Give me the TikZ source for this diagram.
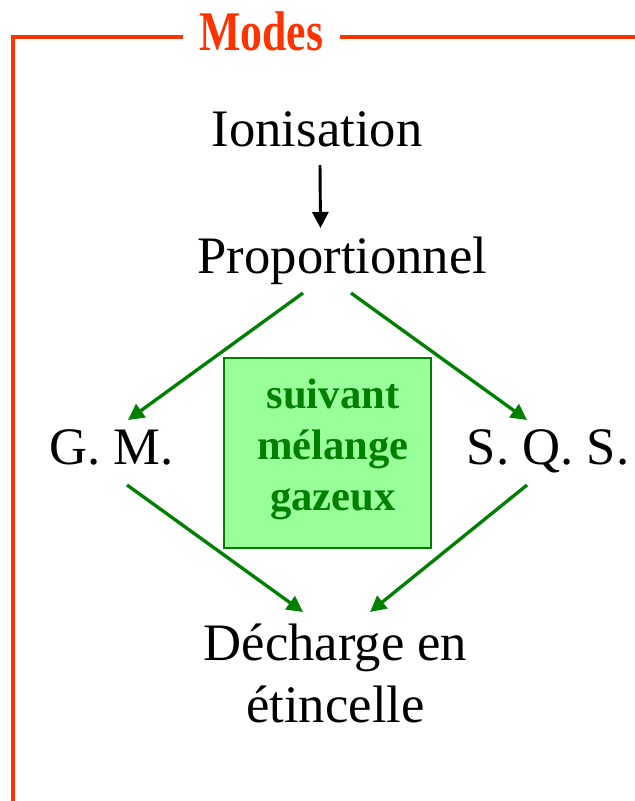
\documentclass[tikz,border=0pt]{standalone}
\usepackage{fontspec}
\usepackage{graphicx}
\setmainfont{Liberation Serif}
\usetikzlibrary{arrows.meta,calc}
\definecolor{framered}{HTML}{FF3300}
\definecolor{dkgreen}{HTML}{008000}
\definecolor{ltgreen}{HTML}{99FF99}
\tikzset{
  big/.style={font=\fontsize{39.5}{46.5}\selectfont, inner sep=0pt, anchor=base},
  greenarrow/.style={draw=dkgreen, line width=2.5pt, -{Triangle[length=12pt,width=12pt]}},
  blackarrow/.style={draw=black, line width=2.2pt, -{Triangle[length=12pt,width=12pt]}},
  framestyle/.style={draw=framered, line width=3pt},
}
\begin{document}
\begin{tikzpicture}[x=0.75pt,y=-0.75pt]
\useasboundingbox (0,0) rectangle (635,801);
% frame
\coordinate (fl) at (183,37);
\coordinate (fr) at (340,37);
\coordinate (fe) at (640,37);
\coordinate (fb) at (13,805);
\draw[framestyle] (fl) -- (13,37) -- (fb);
\draw[framestyle] (fr) -- (fe);
\node[inner sep=0pt, anchor=base, text=framered, font=\fontsize{42}{48}\selectfont\bfseries] (title) at (261.5,50.5) {\scalebox{0.78}[1]{Modes}};
% nodes
\node[big] (ion) at (317,146) {Ionisation};
\node[big] (prop) at (342.5,273) {Proportionnel};
\node[big] (gm) at (111.5,464.5) {G. M.};
\node[big] (sqs) at (548,464.5) {S. Q. S.};
\node[big, align=center, font=\fontsize{39.5}{46.5}\selectfont] (dech) at (335.5,722) {Décharge en\\étincelle};
% green box
\node[draw=dkgreen, line width=1.5pt, fill=ltgreen, minimum width=155pt, minimum height=143pt, inner sep=0pt] (box) at (327.5,453) {};
\node[align=center, text=dkgreen, font=\fontsize{32}{38.25}\selectfont\bfseries, inner sep=0pt, anchor=base] (boxtext) at (333,510) {suivant\\mélange\\gazeux};
% connectors
\draw[blackarrow] ($(ion.base)+(3,19)$) -- ($(prop.base)+(-22,-45)$);
\draw[greenarrow] ($(prop.base)+(-39.5,20)$) -- ($(gm.base)+(16.5,-44.5)$);
\draw[greenarrow] ($(prop.base)+(8.5,20)$) -- ($(sqs.base)+(-21,-44.5)$);
\draw[greenarrow] ($(gm.base)+(15.5,20.5)$) -- ($(dech.base)+(-32.5,-110)$);
\draw[greenarrow] ($(sqs.base)+(-21,20.5)$) -- ($(dech.base)+(34.5,-110)$);
\end{tikzpicture}
\end{document}
